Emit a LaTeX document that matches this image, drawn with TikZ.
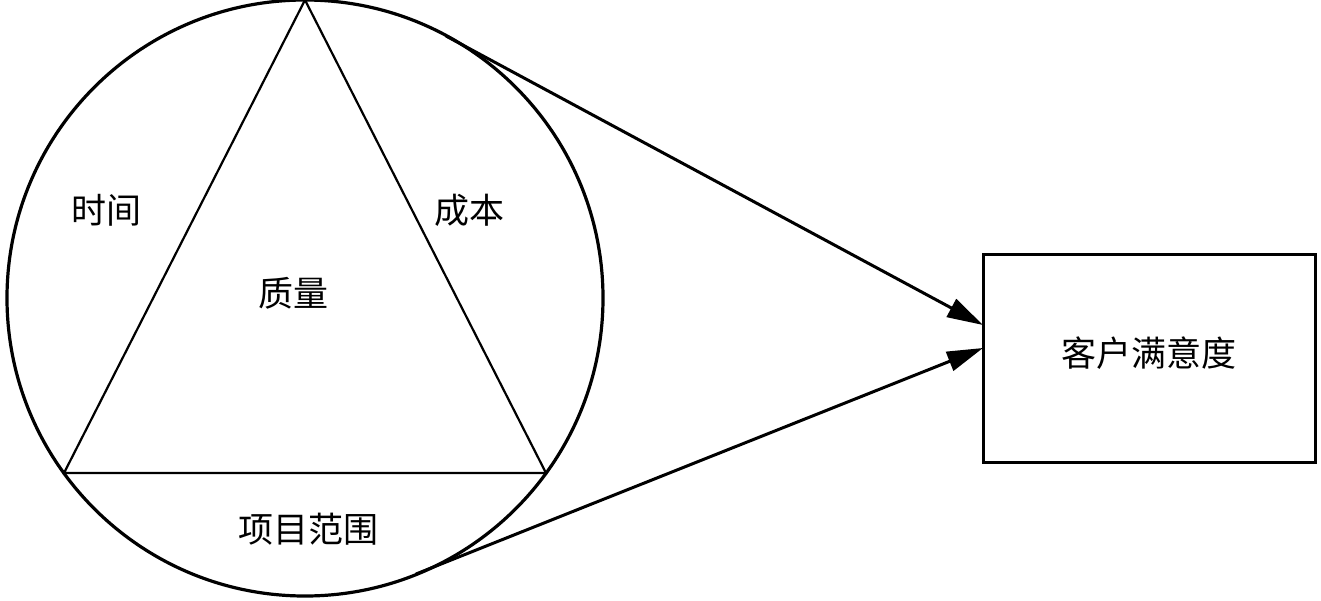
\documentclass[tikz,border=0pt]{standalone}
\usepackage{fontspec}
\newfontfamily\cjk{Noto Sans CJK SC}
\usepackage{tikz}
\usetikzlibrary{arrows.meta}

\begin{document}
\begin{tikzpicture}[x=1pt,y=-1pt]
\useasboundingbox (0,0) rectangle (1321,600);
\begin{scope}[>={Triangle[length=36pt,width=20pt]},
  font=\cjk\fontsize{35}{35}\selectfont]

    % circle with the inscribed triangle
    \node[circle,draw,black,line width=3.2pt,minimum size=596pt,inner sep=0pt] (ring) at (305,298) {};
    \coordinate (top) at (305,0);
    \coordinate (bl) at (64,473);
    \coordinate (br) at (546,473);
    \draw[black,line width=2.2pt,line join=miter] (top) -- (bl) -- (br) -- cycle;

    \node (time) at (106,210) {时间};
    \node (cost) at (469,210) {成本};
    \node (quality) at (293,293) {质量};
    \node (scope) at (308,529) {项目范围};

    % target box
    \node[draw,black,line width=3pt,minimum width=332pt,minimum height=208pt,
      inner sep=0pt,text depth=12pt] (csat) at (1149,358) {客户满意度};

    % tangent arrows
    \coordinate (t1) at (446,36);
    \coordinate (t2) at (416,574);
    \coordinate (e1) at (983,325);
    \coordinate (e2) at (983,348);
    \draw[black,line width=3pt,->] (t1) -- (e1);
    \draw[black,line width=3pt,->] (t2) -- (e2);

\end{scope}
\end{tikzpicture}
\end{document}
